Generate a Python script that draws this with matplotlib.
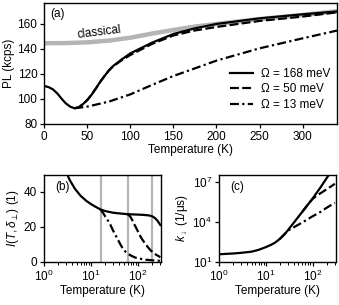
import matplotlib
matplotlib.use("Agg")
import matplotlib.pyplot as plt
import numpy as np

plt.rcParams['font.family'] = ['Liberation Sans', 'DejaVu Sans']
plt.rcParams['mathtext.fontset'] = 'custom'
plt.rcParams['mathtext.rm'] = 'Liberation Sans'
plt.rcParams['mathtext.it'] = 'Liberation Sans:italic'
plt.rcParams['font.size'] = 8.5

# ---- Panel (a) data ----
classical_T = [0, 25, 50, 75, 100, 125, 150, 175, 200, 250, 300, 340]
classical_PL = [144.6, 144.7, 145.3, 146.7, 149, 152.3, 155.2, 157.9, 160.0, 163.9, 167.2, 170.2]

solid_T = [0, 5, 10, 15, 20, 25, 30, 35, 40, 45, 50, 55, 60, 65, 70, 75, 80, 90, 100, 125, 150, 175, 200, 250, 300, 340]
solid_PL = [110.4, 109.5, 107.7, 104.5, 100.3, 96.5, 93.9, 92.6, 93.3, 96.0, 99.2, 103.5, 108.5, 113.8, 118.4, 122.8, 126.4, 131.7, 136.5, 145, 152, 156.5, 160, 164.5, 167.7, 170.0]

dash_T = [35, 40, 45, 50, 55, 60, 65, 70, 75, 80, 90, 100, 125, 150, 175, 200, 250, 300, 340]
dash_PL = [92.6, 93.3, 96.0, 99.2, 103.5, 108.5, 113.8, 118.4, 122.8, 126.2, 131.0, 135.2, 144.0, 150.8, 154.8, 157.6, 162.4, 165.9, 169.3]

dashdot_T = [35, 40, 50, 75, 100, 125, 150, 175, 200, 250, 300, 340]
dashdot_PL = [92.6, 93.0, 93.9, 97.9, 103.7, 111.2, 118.4, 124.5, 130.7, 140.5, 148.5, 154.7]

legend_labels = ['Ω = 168 meV', 'Ω = 50 meV', 'Ω = 13 meV']

# ---- Panel (b) data ----
b_solid_T = [2.8, 3.5, 4.5, 6, 8, 10, 13, 16, 20, 30, 45, 60, 90, 130, 170, 200, 230, 260, 300]
b_solid_I = [53, 47, 42, 37.8, 34.8, 33, 31.2, 29.9, 29.0, 28.0, 27.5, 27.2, 27.0, 26.8, 26.5, 26.0, 25.0, 23.5, 21.0]
b_dash_T = [60, 68, 75, 85, 97, 115, 134, 160, 186, 240, 300]
b_dash_I = [27.2, 26.0, 24.0, 21.0, 18.0, 14.0, 11.3, 8.5, 6.4, 4.0, 2.5]
b_dashdot_T = [16, 18, 20, 23, 26, 30, 36, 43, 50, 60, 70, 85, 100, 150, 200, 300]
b_dashdot_I = [29.9, 28.0, 26.0, 23.5, 21.0, 17.5, 13.4, 9.5, 6.5, 4.6, 3.5, 2.4, 1.8, 1.0, 0.7, 0.4]
b_vlines = [16, 60, 200]

# ---- Panel (c) data ----
c_solid_T = [1, 2, 3, 5, 7, 10, 13, 16, 20, 25, 29, 40, 60, 97, 150, 218, 300]
c_solid_k = [35, 40, 45, 55, 75, 120, 180, 270, 500, 1100, 2000, 8500, 5.3e4, 4.6e5, 4.0e6, 2.9e7, 1.4e8]
c_dash_T = [60, 80, 97, 120, 150, 200, 250, 300]
c_dash_k = [5.3e4, 2.0e5, 4.5e5, 8.5e5, 1.4e6, 2.7e6, 4.5e6, 7.0e6]
c_dashdot_T = [20, 25, 29, 40, 60, 100, 150, 200, 300]
c_dashdot_k = [500, 1100, 2000, 3800, 8500, 2.5e4, 5.5e4, 1.1e5, 2.6e5]

W, H = 339, 305
fig = plt.figure(figsize=(W / 100, H / 100), dpi=100)

def ax_px(l, t, r, b):
    return fig.add_axes([l / W, (H - b) / H, (r - l) / W, (b - t) / H])

gray = '#b4b4b4'
lw = 1.6

# Panel (a)
axa = ax_px(44.3, 2.7, 337, 124)
axa.plot(classical_T, classical_PL, color=gray, lw=3.2, solid_capstyle='butt')
la, = axa.plot(solid_T, solid_PL, 'k-', lw=lw)
lb, = axa.plot(dash_T, dash_PL, color='k', ls=(0, (4, 1.5)), lw=lw)
lc, = axa.plot(dashdot_T, dashdot_PL, color='k', ls=(0, (4, 1.5, 1, 1.5)), lw=lw)
axa.set_xlim(0, 340)
axa.set_ylim(80, 177)
axa.set_xticks([0, 50, 100, 150, 200, 250, 300])
axa.set_yticks([80, 100, 120, 140, 160])
axa.set_xlabel('Temperature (K)', labelpad=1)
axa.set_ylabel('PL (kcps)', labelpad=2)
axa.text(0.02, 0.96, '(a)', transform=axa.transAxes, ha='left', va='top')
axa.text(64, 153.5, 'classical', rotation=7, ha='center', va='center')
axa.legend([la, lb, lc], legend_labels, loc='lower right', frameon=False,
           handlelength=2.0, handletextpad=0.6, labelspacing=0.3,
           bbox_to_anchor=(1.0, 0.05), borderaxespad=0.2)

# Panel (b)
axb = ax_px(44, 174.5, 161, 261.5)
for v in b_vlines:
    axb.axvline(v, color=gray, lw=1.6, zorder=1)
axb.plot(b_solid_T, b_solid_I, 'k-', lw=lw)
axb.plot(b_dash_T, b_dash_I, color='k', ls=(0, (4, 1.5)), lw=lw)
axb.plot(b_dashdot_T, b_dashdot_I, color='k', ls=(0, (4, 1.5, 1, 1.5)), lw=lw)
axb.set_xscale('log')
axb.set_xlim(1, 310)
axb.set_ylim(0, 50)
axb.set_yticks([0, 20, 40])
axb.set_xlabel('Temperature (K)', labelpad=1)
axb.set_ylabel(r'$I(T,\delta_\perp)$ (1)', labelpad=2)
axb.text(0.1, 0.93, '(b)', transform=axb.transAxes, ha='left', va='top')

# Panel (c)
axc = ax_px(219, 174.5, 335.5, 261.5)
axc.plot(c_solid_T, c_solid_k, 'k-', lw=lw)
axc.plot(c_dash_T, c_dash_k, color='k', ls=(0, (4, 1.5)), lw=lw)
axc.plot(c_dashdot_T, c_dashdot_k, color='k', ls=(0, (4, 1.5, 1, 1.5)), lw=lw)
axc.set_xscale('log')
axc.set_yscale('log')
axc.set_xlim(1, 310)
axc.set_ylim(10, 3.5e7)
axc.set_yticks([1e1, 1e4, 1e7])
axc.yaxis.set_minor_locator(matplotlib.ticker.NullLocator())
axc.set_xlabel('Temperature (K)', labelpad=1)
axc.set_ylabel(r'$k_\downarrow$ (1/μs)', labelpad=2)
axc.text(0.1, 0.93, '(c)', transform=axc.transAxes, ha='left', va='top')

for ax in (axa, axb, axc):
    for s in ax.spines.values():
        s.set_linewidth(1.0)
    ax.tick_params(direction='out', length=3, width=0.9, pad=2)
    ax.tick_params(which='minor', length=2, width=0.7)

fig.savefig('out.png', dpi=100)
